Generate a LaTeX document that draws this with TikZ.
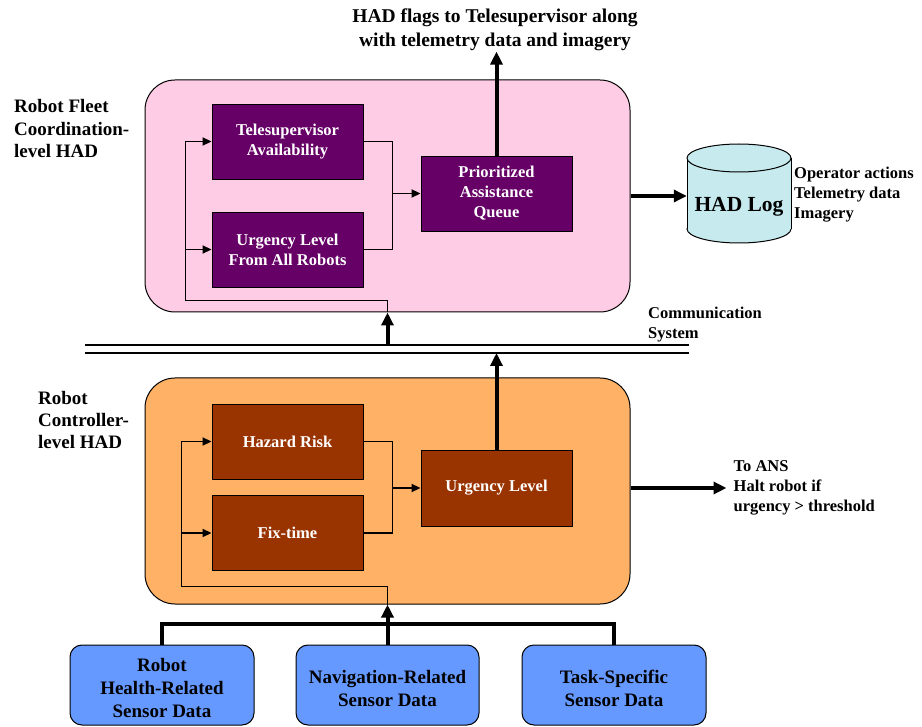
\documentclass[tikz,border=0pt]{standalone}
\usepackage{fontspec}
\setmainfont{Liberation Serif}
\usetikzlibrary{arrows.meta}

\definecolor{fleetpink}{HTML}{FFCCE6}
\definecolor{ctrlorange}{HTML}{FFB266}
\definecolor{fleetbox}{HTML}{660066}
\definecolor{ctrlbox}{HTML}{993300}
\definecolor{sensorblue}{HTML}{6699FF}
\definecolor{logcyan}{HTML}{C6EAEE}

\begin{document}
\begin{tikzpicture}[x=1pt,y=-1pt,
  font=\bfseries\fontsize{16.5}{20}\selectfont,
  panel/.style={draw=black, line width=1pt, rounded corners=30pt,
    minimum width=485pt, inner sep=0pt},
  funcbox/.style={draw=black, line width=0.9pt, text=white, align=center,
    minimum width=151pt, minimum height=75pt, inner sep=0pt},
  sensor/.style={draw=black, line width=1pt, fill=sensorblue, rounded corners=12pt,
    minimum width=184pt, minimum height=80pt, inner sep=0pt},
  sensortext/.style={align=center, inner sep=0pt,
    font=\bfseries\fontsize{19}{23}\selectfont},
  caption/.style={align=left, inner sep=0pt},
  bigcaption/.style={align=left, inner sep=0pt, font=\bfseries\fontsize{19}{22.5}\selectfont},
  wire/.style={line width=1.8pt},
  flowline/.style={line width=1.8pt, -{Triangle[length=9pt,width=8pt]}},
  boldarrow/.style={line width=4pt, -{Triangle[length=13pt,width=12pt]}},
  busline/.style={line width=4pt},
]
\useasboundingbox (0,0) rectangle (922,727);

% ---------- fleet coordination level ----------
\node[panel, fill=fleetpink, minimum height=232pt] (fleet) at (387.5,196) {};
\node[funcbox, fill=fleetbox] (tele) at (287.5,141.5) {Telesupervisor\\Availability};
\node[funcbox, fill=fleetbox] (urgall) at (287.5,249.5) {Urgency Level\\From All Robots};
\node[funcbox, fill=fleetbox] (queue) at (496.5,193.5) {Prioritized\\Assistance\\Queue};

\draw[flowline] (fleet.south) -- ++(0,-12) -| ([xshift=-26pt]tele.west) -- (tele.west);
\draw[flowline] ([xshift=-26pt]urgall.west) -- (urgall.west);
\draw[wire] (tele.east) -| ([xshift=29pt]urgall.east) -- (urgall.east);
\draw[flowline] ([xshift=-29pt]queue.west) -- (queue.west);

\node[bigcaption, anchor=west] (fleetlbl) at (14,129) {Robot Fleet\\Coordination-\\level HAD};
\node[align=center, inner sep=0pt, font=\bfseries\fontsize{19.5}{24}\selectfont]
  (flags) at (495,30) {HAD flags to Telesupervisor along\\with telemetry data and imagery};
\draw[boldarrow] (queue.north) -- ++(0,-104);

% ---------- HAD log ----------
\fill[logcyan] (739,229) ellipse [x radius=52pt, y radius=14pt];
\draw[line width=1pt] (739,229) ellipse [x radius=52pt, y radius=14pt];
\fill[logcyan] (687,158) rectangle (791,229);
\draw[line width=1pt] (687,158) -- (687,229) (791,158) -- (791,229);
\draw[line width=1pt, fill=logcyan] (739,158) ellipse [x radius=52pt, y radius=14pt];
\node[inner sep=0pt, minimum width=104pt, font=\bfseries\fontsize{21.5}{24}\selectfont]
  (log) at (739,207) {HAD Log};
\draw[boldarrow] (fleet.east) -- (fleet.east -| log.west);
\node[caption, anchor=west] (logitems) at (794,195) {Operator actions\\Telemetry data\\Imagery};

% ---------- communication system ----------
\coordinate (commA) at (85,345);
\coordinate (commB) at (689,345);
\coordinate (commC) at (85,353);
\coordinate (commD) at (689,353);
\draw[line width=1.3pt] (commA) -- (commB);
\draw[line width=2.4pt] (commC) -- (commD);
\node[caption, anchor=west] (commlbl) at (648,325) {Communication\\System};
\draw[boldarrow] (fleet.south |- commA) -- (fleet.south);

% ---------- robot controller level ----------
\node[panel, fill=ctrlorange, minimum height=226pt] (ctrl) at (387.5,491) {};
\node[funcbox, fill=ctrlbox] (hazard) at (287.5,441.5) {Hazard Risk};
\node[funcbox, fill=ctrlbox] (fix) at (287.5,533) {Fix-time};
\node[funcbox, fill=ctrlbox, minimum height=76pt] (urg) at (496.5,488) {Urgency Level};

\draw[flowline] (ctrl.south) -- ++(0,-18) -| ([xshift=-30pt]hazard.west) -- (hazard.west);
\draw[flowline] ([xshift=-30pt]fix.west) -- (fix.west);
\draw[wire] (hazard.east) -| ([xshift=29pt]fix.east) -- (fix.east);
\draw[flowline] ([xshift=-29pt]urg.west) -- (urg.west);

\draw[boldarrow] (urg.north) -- (urg.north |- commC);
\node[bigcaption, anchor=west, font=\bfseries\fontsize{19}{22}\selectfont]
  (ctrllbl) at (38,420) {Robot\\Controller-\\level HAD};

\draw[boldarrow] (urg.east -| ctrl.east) -- ++(96,0) coordinate (ansend);
\node[caption, anchor=west] (ans) at ([xshift=7pt]ansend) {To ANS\\Halt robot if\\urgency > threshold};

% ---------- sensor inputs ----------
\node[sensor] (health) at (162,685) {};
\node[sensor, minimum width=183pt] (nav) at (387.5,685) {};
\node[sensor] (task) at (614,685) {};
\node[sensortext] (healthtxt) at (162,688) {Robot\\Health-Related\\Sensor Data};
\node[sensortext] (navtxt) at (387.5,688) {Navigation-Related\\Sensor Data};
\node[sensortext] (tasktxt) at (614,688) {Task-Specific\\Sensor Data};

\draw[busline] (health.north) -- ++(0,-21) -| (task.north);
\draw[boldarrow] (nav.north) -- (ctrl.south);
\end{tikzpicture}
\end{document}
